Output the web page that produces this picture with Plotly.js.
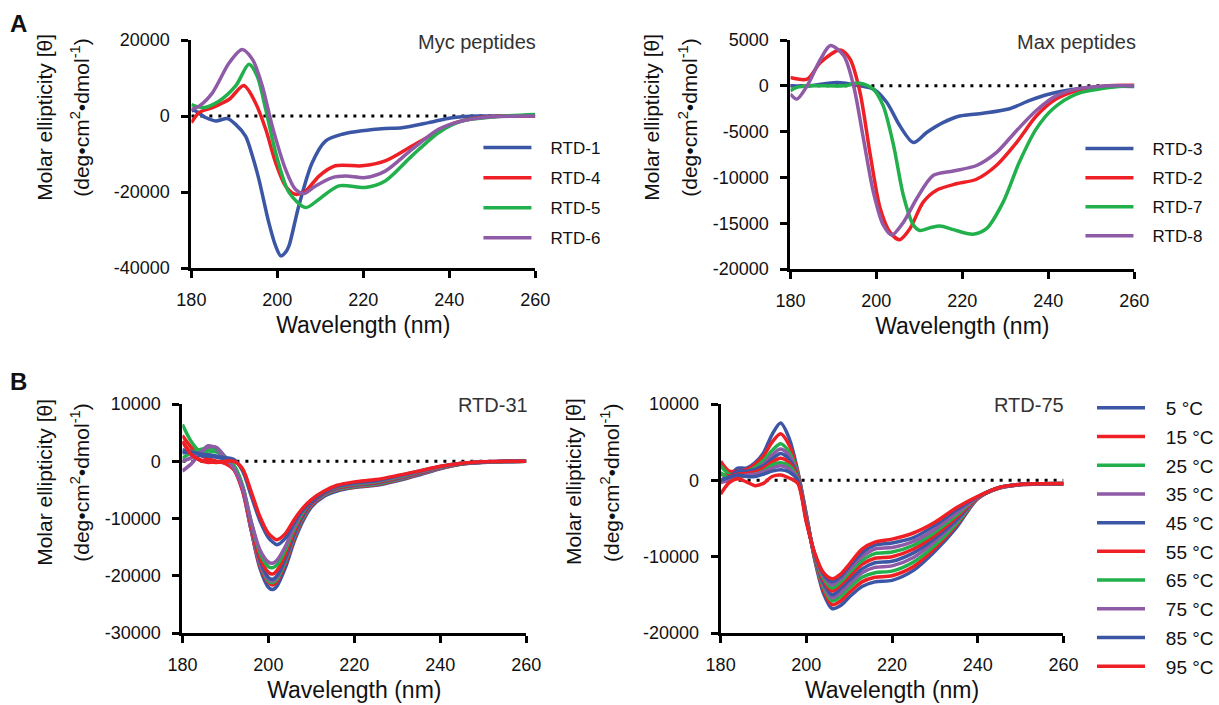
<!DOCTYPE html>
<html><head><meta charset="utf-8">
<script src="https://cdn.plot.ly/plotly-3.0.1.min.js"></script>
<style>html,body{margin:0;padding:0;background:#fff}</style>
</head><body><div id="chart" style="width:1219px;height:705px"></div>
<script>
// ---------- Panel A, Myc peptides ----------
const rtd1X = [180,180.6,183.3,185.7,188.4,190.3,192.6,194.2,195.7,198.0,199.6,200.8,201.9,202.7,205.0,208.1,211.2,215.1,219.7,225.1,229.0,235.2,240.6,246.8,253,260];
const rtd1Y = [1300,1500,-400,-1300,-700,-2200,-5300,-10500,-16600,-28000,-34200,-36800,-35900,-34200,-23600,-12300,-6600,-4800,-3900,-3300,-3100,-1750,-440,0,0,0];
const rtd4X = [180,181.8,184.9,188.8,192.2,194.9,197.3,199.6,201.9,204.2,206.6,209.7,213.5,219.7,225.1,231.3,236.8,241.4,246.8,253,260];
const rtd4Y = [-1750,900,2200,4400,8000,3500,-3500,-12300,-18400,-20600,-19700,-15800,-13100,-13100,-11800,-7900,-4400,-1750,-440,0,0];
const rtd5X = [180,182.6,186.4,190.3,193.4,195.3,197.3,199.6,202.7,206.6,209.7,214.3,220.5,225.1,231.3,237.5,243.0,250.7,260];
const rtd5Y = [3000,2200,3900,7900,13600,10500,1750,-9600,-20100,-24100,-21900,-18400,-18800,-17100,-10500,-4400,-1300,-200,400];
const rtd6X = [180,181.8,184.9,188.8,191.8,194.2,196.5,198.8,201.9,204.2,206.2,208.9,212.8,215.9,220.5,225.1,231.3,237.5,243.0,250,260];
const rtd6Y = [1750,2600,6100,14000,17500,14900,7900,-2600,-14000,-19300,-20400,-18400,-16200,-15800,-16200,-14500,-8800,-3500,-1300,-200,0];

// ---------- Panel A, Max peptides ----------
const rtd3X = [180,184.6,190.8,196.2,199.3,202.4,205.5,208.6,211.7,215.6,219.4,224.8,231,235.7,240.3,246.5,254.2,260];
const rtd3Y = [0,0,360,0,-360,-1800,-4400,-6200,-5100,-4000,-3300,-3000,-2500,-1600,-900,-360,-70,-70];
const rtd2X = [180,183.9,187,191.6,193.9,196.2,198.6,200.9,203.2,205.4,207.8,210.9,214,218.6,223.3,227.9,232.6,237.2,241.8,246.5,253.9,260];
const rtd2Y = [900,730,2540,3900,2900,-730,-7600,-13400,-16000,-16800,-15600,-12700,-11400,-10700,-10200,-8700,-6200,-3300,-1450,-540,0,70];
const rtd7X = [180,181.5,184.6,192.4,196.2,199.3,201.6,204,206.3,208.6,210.1,212.5,214.8,217.9,222.5,225.6,229.5,233.3,237.2,241.1,246.5,254.2,260];
const rtd7Y = [-540,-180,0,0,290,-360,-2200,-6500,-12000,-15200,-15800,-15500,-15300,-15700,-16200,-15600,-12700,-8300,-4700,-2500,-900,-180,0];
const rtd8X = [180,181.5,183.9,187,189.3,192.4,194.7,197,199.3,201.6,203.6,206.3,209.4,213.2,217.9,223.3,227.9,232.6,237.2,241.8,246.5,253.9,260];
const rtd8Y = [-900,-1450,0,2900,4400,3300,0,-5800,-11600,-15200,-16300,-14900,-12300,-9800,-9300,-8700,-7300,-4900,-2700,-1100,-360,0,0];

// ---------- Panel B, RTD-31 (temperature series) ----------
const wlB31 = [180,182,184,186,188,190,192,194,196,198,200,201,202,204,206,208,210,213,216,220,225,230,235,240,245,250,255,260];
const b31_5  = [1500,1800,1500,1200,900,400,-900,-4800,-12000,-18600,-22000,-22400,-21800,-18500,-14000,-10500,-8000,-6100,-5200,-4600,-4200,-3400,-2400,-1300,-500,-200,-50,0];
const b31_15 = [4500,2500,1200,400,0,-300,-1300,-5000,-12000,-18200,-21200,-21600,-21000,-17800,-13500,-10100,-7800,-5900,-5000,-4500,-4100,-3300,-2300,-1250,-480,-180,-50,0];
const b31_25 = [6400,3500,1800,1800,1600,500,-900,-4600,-11500,-17800,-20900,-21200,-20600,-17400,-13200,-9900,-7600,-5800,-4900,-4400,-4000,-3200,-2200,-1200,-450,-170,-40,0];
const b31_35 = [-1700,-500,1200,2700,2000,200,-1400,-5200,-12000,-17700,-20600,-20900,-20300,-17100,-13000,-9700,-7500,-5700,-4800,-4300,-3900,-3100,-2200,-1150,-430,-160,-40,0];
const b31_45 = [2000,1600,1000,900,700,300,-900,-4500,-11200,-17200,-20300,-20600,-20000,-16900,-12800,-9600,-7400,-5600,-4700,-4200,-3800,-3000,-2100,-1100,-420,-150,-40,0];
const b31_55 = [3400,1500,200,-200,-100,-400,-1500,-5000,-11200,-16800,-19400,-19700,-19100,-16200,-12300,-9200,-7200,-5500,-4600,-4100,-3700,-2900,-2000,-1050,-400,-140,-30,0];
const b31_65 = [500,1500,2000,2300,2200,800,-700,-4200,-10600,-15900,-18400,-18600,-18100,-15400,-11800,-8900,-7000,-5400,-4500,-4000,-3600,-2800,-1900,-1000,-380,-130,-30,0];
const b31_75 = [0,600,1500,2500,2400,600,-1300,-4600,-10500,-15400,-17600,-17800,-17300,-14800,-11400,-8600,-6800,-5300,-4400,-3900,-3500,-2700,-1850,-950,-360,-120,-30,0];
const b31_85 = [1500,1600,1300,1000,800,600,300,-1700,-6000,-10300,-13300,-14100,-14600,-13400,-10800,-8600,-7000,-5400,-4400,-3800,-3400,-2600,-1750,-900,-340,-110,-20,0];
const b31_95 = [3500,1200,300,0,-200,0,0,-1300,-5300,-9600,-12600,-13300,-13700,-12600,-10200,-8200,-6700,-5200,-4200,-3600,-3200,-2500,-1700,-880,-330,-100,-20,0];

// ---------- Panel B, RTD-75 (temperature series) ----------
const wlB75 = [180,182,184,186,188,190,192,194,196,198,200,202,204,206,208,210,213,216,220,225,230,235,240,245,250,255,260];
const b75_5  = [0,600,1600,1600,2300,3600,6000,7500,5500,1200,-4500,-10500,-14800,-16800,-16400,-15300,-13900,-13300,-13100,-11800,-9300,-6200,-2400,-1000,-560,-460,-450];
const b75_15 = [2500,1200,1200,1400,2100,3200,5000,6100,4600,1000,-4600,-10400,-14400,-16300,-15800,-14700,-13300,-12700,-12500,-11300,-8900,-5900,-2350,-1000,-560,-460,-450];
const b75_25 = [1900,800,800,1100,1700,2600,3900,4800,3700,800,-4700,-10300,-14000,-15800,-15200,-14100,-12700,-12100,-11900,-10700,-8500,-5700,-2300,-980,-550,-450,-450];
const b75_35 = [0,300,800,1000,1400,2100,3300,4100,3200,600,-4800,-10200,-13700,-15400,-14700,-13600,-12100,-11400,-11200,-10100,-8000,-5400,-2300,-980,-550,-450,-440];
const b75_45 = [0,500,1200,1200,1400,1900,2800,3500,2700,500,-4900,-10100,-13400,-15000,-14200,-13100,-11600,-10800,-10600,-9500,-7600,-5200,-2250,-960,-540,-450,-440];
const b75_55 = [800,600,800,900,1100,1600,2400,2900,2300,400,-5000,-10000,-13100,-14500,-13700,-12600,-11000,-10200,-10000,-9000,-7200,-4900,-2250,-960,-540,-450,-440];
const b75_65 = [1000,300,400,600,800,1200,2000,2300,1900,200,-5100,-9900,-12800,-14100,-13300,-12100,-10500,-9600,-9400,-8500,-6800,-4600,-2200,-950,-530,-440,-430];
const b75_75 = [-300,0,400,700,800,1100,1600,1900,1500,100,-5200,-9800,-12500,-13700,-12900,-11700,-10000,-9000,-8800,-8000,-6400,-4300,-2200,-950,-530,-440,-430];
const b75_85 = [0,400,700,500,500,800,1200,1400,1100,0,-5300,-9700,-12300,-13300,-12600,-11300,-9500,-8500,-8200,-7500,-5900,-3900,-2150,-940,-520,-440,-430];
const b75_95 = [-1800,-300,200,-200,-700,-400,500,700,300,-400,-5500,-9600,-12100,-12900,-12300,-11000,-9000,-8100,-7700,-6900,-5500,-3600,-2100,-940,-520,-440,-430];

const tempLabels = ['5 °C','15 °C','25 °C','35 °C','45 °C','55 °C','65 °C','75 °C','85 °C','95 °C'];
const mycNames = ['RTD-1','RTD-4','RTD-5','RTD-6'];
const maxNames = ['RTD-3','RTD-2','RTD-7','RTD-8'];
const xTicks = [180,200,220,240,260];
const yTicksA1 = [20000,0,-20000,-40000];
const yTicksA2 = [5000,0,-5000,-10000,-15000,-20000];
const yTicksB1 = [10000,0,-10000,-20000,-30000];
const yTicksB2 = [10000,0,-10000,-20000];

// ---------- styling ----------
const BLUE='#3A56A5', RED='#EE2026', GREEN='#21B04B', PURPLE='#8F5AA6';
const cycle=[BLUE,RED,GREEN,PURPLE];
const FONT='"Liberation Sans", Arial, Helvetica, sans-serif';
const LW=3.5;
const PAD='\u00A0\u00A0\u00A0';

const traces=[];
function zero(xa,ya){traces.push({x:[180,260],y:[0,0],xaxis:xa,yaxis:ya,mode:'lines',
  line:{color:'#000',width:3,dash:'3px,6px'},showlegend:false,hoverinfo:'skip'});}
function curve(x,y,name,color,xa,ya,leg){traces.push({x:x,y:y,name:PAD+name,xaxis:xa,yaxis:ya,mode:'lines',
  line:{color:color,width:LW,shape:'spline',smoothing:0.8},legend:leg,legendgroup:leg+name});}

zero('x','y');
[[rtd1X,rtd1Y],[rtd4X,rtd4Y],[rtd5X,rtd5Y],[rtd6X,rtd6Y]].forEach((d,i)=>curve(d[0],d[1],mycNames[i],cycle[i],'x','y','legend'));
zero('x2','y2');
[[rtd3X,rtd3Y],[rtd2X,rtd2Y],[rtd7X,rtd7Y],[rtd8X,rtd8Y]].forEach((d,i)=>curve(d[0],d[1],maxNames[i],cycle[i],'x2','y2','legend2'));
zero('x3','y3');
const b31=[b31_5,b31_15,b31_25,b31_35,b31_45,b31_55,b31_65,b31_75,b31_85,b31_95];
b31.forEach((y,i)=>traces.push({x:wlB31,y:y,xaxis:'x3',yaxis:'y3',mode:'lines',showlegend:false,
  line:{color:cycle[i%4],width:LW,shape:'spline',smoothing:0.8}}));
zero('x4','y4');
const b75=[b75_5,b75_15,b75_25,b75_35,b75_45,b75_55,b75_65,b75_75,b75_85,b75_95];
b75.forEach((y,i)=>curve(wlB75,y,tempLabels[i],cycle[i%4],'x4','y4','legend3'));

function fmt(v){return String(v);}
function xax(dom,anchor){return {domain:dom,anchor:anchor,range:[180,260],tickvals:xTicks,ticktext:xTicks.map(fmt),
  showline:true,linecolor:'#000',linewidth:3,ticks:'outside',ticklen:7,tickwidth:3,tickcolor:'#000',
  showgrid:false,zeroline:false,tickfont:{size:18,color:'#111',family:FONT},ticklabelstandoff:6,
  title:{text:'Wavelength (nm)',font:{size:23,color:'#111',family:FONT},standoff:9},fixedrange:true};}
function yax(dom,anchor,rng,tv){return {domain:dom,anchor:anchor,range:rng,tickvals:tv,ticktext:tv.map(fmt),
  showline:true,linecolor:'#000',linewidth:3,ticks:'outside',ticklen:7,tickwidth:3,tickcolor:'#000',
  showgrid:false,zeroline:false,tickfont:{size:18,color:'#111',family:FONT},ticklabelstandoff:8,fixedrange:true};}

const W=1219,H=705;
const px=v=>v/W, py=v=>1-v/H;

const ann=[];
function ytitle(x1,x2,yc){
  ann.push({xref:'paper',yref:'paper',x:px(x1),y:py(yc),text:'Molar ellipticity [θ]',textangle:-90,showarrow:false,
    xanchor:'center',yanchor:'middle',font:{size:21,color:'#111',family:FONT}});
  ann.push({xref:'paper',yref:'paper',x:px(x2),y:py(yc),text:'(deg•cm<sup>2</sup>•dmol<sup>-1</sup>)',textangle:-90,showarrow:false,
    xanchor:'center',yanchor:'middle',font:{size:21,color:'#111',family:FONT}});
}
ytitle(44,80,117); ytitle(653,690,117); ytitle(44,80,482); ytitle(575,612,482);
function ptitle(t,xr,yc){ann.push({xref:'paper',yref:'paper',x:px(xr),y:py(yc),text:t,showarrow:false,xanchor:'right',yanchor:'middle',
  font:{size:20,color:'#333',family:FONT}});}
ptitle('Myc peptides',540,42); ptitle('Max peptides',1142,42); ptitle('RTD-31',532,405); ptitle('RTD-75',1070,405);
ann.push({xref:'paper',yref:'paper',x:px(8),y:py(23),text:'<b>A</b>',showarrow:false,xanchor:'left',yanchor:'middle',font:{size:24,color:'#111',family:FONT}});
ann.push({xref:'paper',yref:'paper',x:px(8),y:py(381),text:'<b>B</b>',showarrow:false,xanchor:'left',yanchor:'middle',font:{size:24,color:'#111',family:FONT}});

function leg(x,y,gap,fs){return {x:px(x),y:py(y),xanchor:'left',yanchor:'top',bgcolor:'rgba(0,0,0,0)',borderwidth:0,
  font:{size:fs,color:'#111',family:FONT},itemwidth:48,tracegroupgap:gap,traceorder:'grouped',itemclick:false,itemdoubleclick:false};}

const layout={width:W,height:H,margin:{l:0,r:0,t:0,b:0},paper_bgcolor:'#fff',plot_bgcolor:'rgba(0,0,0,0)',
  font:{family:FONT},showlegend:true,
  xaxis:xax([px(192),px(537)],'y'), yaxis:yax([py(268),py(40)],'x',[-40000,20000],yTicksA1),
  xaxis2:xax([px(793),px(1138)],'y2'), yaxis2:yax([py(269),py(40)],'x2',[-20000,5000],yTicksA2),
  xaxis3:xax([px(183),px(528)],'y3'), yaxis3:yax([py(633),py(404)],'x3',[-30000,10000],yTicksB1),
  xaxis4:xax([px(723),px(1067)],'y4'), yaxis4:yax([py(633),py(404)],'x4',[-20000,10000],yTicksB2),
  legend:leg(480,130,5,17), legend2:leg(1084,131,4,17), legend3:leg(1096,389,1,19),
  annotations:ann};
Plotly.newPlot('chart',traces,layout,{staticPlot:true,displayModeBar:false});
</script></body></html>
